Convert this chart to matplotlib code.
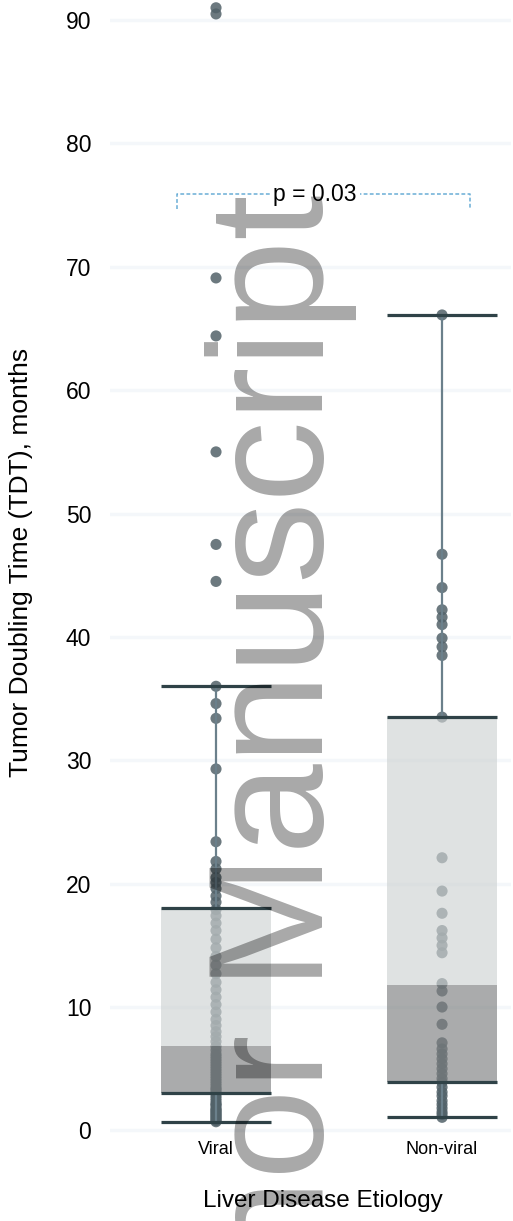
import matplotlib
matplotlib.use("Agg")
import matplotlib.pyplot as plt

plt.rcParams["font.family"] = ["Liberation Sans", "DejaVu Sans"]

# ---- data -------------------------------------------------------------
categories = ["Viral", "Non-viral"]

viral_tdt = [
    0.7, 0.8, 0.9, 1.0, 1.1, 1.2, 1.3, 1.4, 1.5, 1.6, 1.7, 1.8, 2.0, 2.1, 2.2,
    2.4, 2.6, 2.8, 3.0,
    3.1, 3.3, 3.4, 3.6, 3.8, 4.0, 4.2, 4.4, 4.6, 4.8, 5.0, 5.2, 5.4, 5.6, 5.8,
    6.0, 6.2, 6.5, 6.8,
    7.2, 7.6, 8.0, 8.5, 9.0, 9.6, 10.2, 10.8, 11.4, 12.0, 12.7, 13.4, 14.1,
    14.8, 15.5, 16.2, 16.8, 17.4, 17.9,
    18.5, 19.0, 19.6, 20.1, 20.5, 21.2, 21.8, 23.4, 29.3, 33.4, 34.6, 36.0,
    44.5, 47.5, 55.0, 64.4, 69.1, 90.5, 91.0,
]

nonviral_tdt = [
    66.1, 46.7, 44.0, 42.2, 41.6, 41.0, 39.9, 39.2, 38.5, 33.5,
    22.1, 19.4, 17.6, 16.2, 15.6, 15.0, 14.4, 11.9, 11.3, 10.0, 8.6,
    7.1, 6.6, 6.2, 5.8, 5.4, 5.0, 4.6, 4.2, 3.9, 3.5, 3.1, 2.8, 2.4, 2.1,
    1.8, 1.5, 1.3, 1.06,
]

# box summary per group: whisker low, Q1, median, Q3, whisker high
whisker_lo = [0.7, 1.06]
q1 = [3.06, 3.95]
median = [6.87, 11.8]
q3 = [18.0, 33.5]
whisker_hi = [36.0, 66.1]

p_label = "p = 0.03"
y_ticks = [0, 10, 20, 30, 40, 50, 60, 70, 80, 90]

# ---- figure -----------------------------------------------------------
W, H = 513, 1221
fig = plt.figure(figsize=(W / 100, H / 100), dpi=100)
ax = fig.add_axes([110 / W, (H - 1135) / H, 401 / W, 1135 / H])

positions = [0, 1]
box_w = 0.49

# points, drawn beneath the translucent boxes
for pos, vals in zip(positions, [viral_tdt, nonviral_tdt]):
    ax.scatter([pos] * len(vals), vals, s=64, color="#526269", alpha=0.85,
               edgecolors="none", zorder=2, clip_on=False)

# lower half (Q1 -> median) and upper half (median -> Q3) of each box
lower_h = [m - a for m, a in zip(median, q1)]
upper_h = [b - m for b, m in zip(q3, median)]
ax.bar(positions, lower_h, bottom=q1, width=box_w, color="#7d7f80",
       alpha=0.65, linewidth=0, zorder=3)
ax.bar(positions, upper_h, bottom=median, width=box_w, color="#cfd3d3",
       alpha=0.65, linewidth=0, zorder=3)

# whiskers
ax.vlines(positions, q3, whisker_hi, color="#6b808b", lw=1.6, zorder=2.5)
ax.vlines(positions, whisker_lo, q1, color="#6b808b", lw=1.6, zorder=2.5)

# quartile edges and whisker caps
line_kw = dict(color="#2f4247", lw=2.3, zorder=4)
for vals in (q1, q3, whisker_lo, whisker_hi):
    ax.hlines(vals, [p - box_w / 2 for p in positions],
              [p + box_w / 2 for p in positions], **line_kw)

# significance bracket
bx0, bx1, by, btick = -0.174, 1.124, 75.9, 74.7
ax.plot([bx0, bx0, bx1, bx1], [btick, by, by, btick], color="#6aaed6",
        lw=1.1, ls=(0, (2.5, 1.5)), zorder=4)
ax.text(0.438, by, p_label, ha="center", va="center", fontsize=16.5,
        color="black", zorder=5,
        bbox=dict(facecolor="white", edgecolor="none", pad=2.5))

# axes styling
ax.set_xlim(-0.469, 1.305)
ax.set_ylim(-0.373, 91.63)
ax.set_yticks(y_ticks)
ax.set_yticklabels([str(v) for v in y_ticks])
ax.set_xticks(positions)
ax.set_xticklabels(categories)
ax.tick_params(axis="y", length=0, pad=13.5, labelsize=16.5)
ax.tick_params(axis="x", length=0, pad=4, labelsize=13)
for s in ax.spines.values():
    s.set_visible(False)
ax.set_axisbelow(True)
ax.yaxis.grid(True, color="#f4f7fa", lw=2.5)
ax.xaxis.grid(False)

ax.set_xlabel("Liver Disease Etiology", fontsize=17.5)
ax.xaxis.label.set_va("center")
ax.xaxis.set_label_coords((323 - 110) / 401, (1135 - 1201) / 1135)

ax.set_ylabel("Tumor Doubling Time (TDT), months", fontsize=19)
ax.yaxis.label.set_va("center")
ax.yaxis.set_label_coords((21 - 110) / 401, (1135 - 562) / 1135)

# overlay watermark
fig.text(323 / W, 1 - 194 / H, "Author Manuscript", rotation=90,
         rotation_mode="anchor", ha="right", va="baseline", fontsize=117,
         color="black", alpha=0.34, zorder=10)

fig.savefig("out.png", dpi=100)
